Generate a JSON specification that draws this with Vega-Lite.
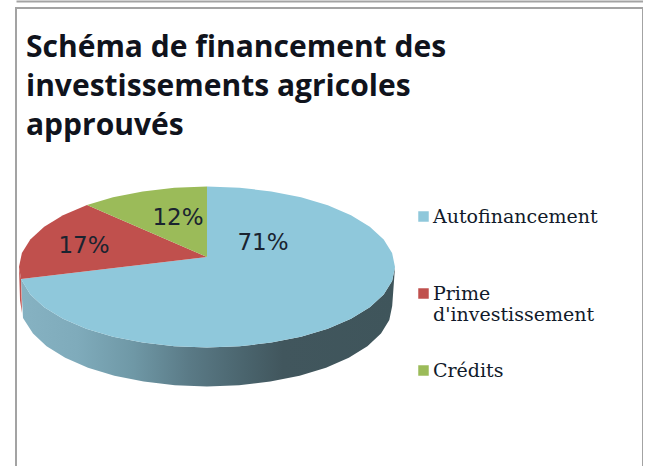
{"$schema":"https://vega.github.io/schema/vega-lite/v6.json","width":627,"height":470,"autosize":"none","padding":{"left":16,"top":8,"right":0,"bottom":0},"background":"white","view":{"stroke":"#a3a3a3","strokeWidth":2,"fill":"white"},"title":{"text":["Schéma de financement des","investissements agricoles","approuvés"],"anchor":"start","frame":"group","font":"Open Sans","fontWeight":"bold","fontSize":30,"lineHeight":39,"color":"#10131c","dx":10,"dy":144,"baseline":"top"},"layer":[{"data":{"values":[{"type":"Feature","properties":{"part":"flanc"},"geometry":{"type":"Polygon","coordinates":[[[188,0],[185.1,-14],[176.7,-27.5],[162.8,-40.3],[144,-51.7],[120.8,-61.7],[94,-69.7],[64.3,-75.6],[32.6,-79.3],[0,-80.5],[-32.6,-79.3],[-64.3,-75.6],[-94,-69.7],[-120.8,-61.7],[-144,-51.7],[-162.8,-40.3],[-176.7,-27.5],[-186,-12],[-184,-51],[-174,-66.5],[-160.4,-79.3],[-141.8,-90.7],[-119,-100.7],[-92.6,-108.7],[-63.3,-114.6],[-32.1,-118.3],[0,-119.5],[32.1,-118.3],[63.3,-114.6],[92.6,-108.7],[119,-100.7],[141.8,-90.7],[160.4,-79.3],[174,-66.5],[182.3,-53],[185.2,-39],[188,0]]]}}]},"mark":{"type":"geoshape","stroke":null,"fill":{"gradient":"linear","x1":0,"y1":0,"x2":1,"y2":0,"stops":[{"offset":0,"color":"#86b2c2"},{"offset":0.15,"color":"#7fabbb"},{"offset":0.3,"color":"#6f98a6"},{"offset":0.45,"color":"#5a7a86"},{"offset":0.6,"color":"#4a646d"},{"offset":0.7,"color":"#41565d"},{"offset":1,"color":"#3f555b"}]}},"projection":{"type":"identity","reflectY":true,"scale":1,"translate":[191,259]}},{"data":{"values":[{"type":"Feature","properties":{"part":"flanc rouge"},"geometry":{"type":"Polygon","coordinates":[[[-186,-12],[-188,0],[-187,-33],[-185,-46],[-186,-12]]]}}]},"mark":{"type":"geoshape","stroke":null,"fill":"#c0504d"},"projection":{"type":"identity","reflectY":true,"scale":1,"translate":[191,259]}},{"data":{"values":[{"type":"Feature","properties":{"poste":"Autofinancement"},"geometry":{"type":"Polygon","coordinates":[[[0,10],[0,80.5],[32.6,79.3],[64.3,75.6],[94,69.7],[120.8,61.7],[144,51.7],[162.8,40.3],[176.7,27.5],[185.1,14],[188,0],[185.1,-14],[176.7,-27.5],[162.8,-40.3],[144,-51.7],[120.8,-61.7],[94,-69.7],[64.3,-75.6],[32.6,-79.3],[0,-80.5],[-32.6,-79.3],[-64.3,-75.6],[-94,-69.7],[-120.8,-61.7],[-144,-51.7],[-162.8,-40.3],[-176.7,-27.5],[-186,-12],[0,10]]]}},{"type":"Feature","properties":{"poste":"Prime d'investissement"},"geometry":{"type":"Polygon","coordinates":[[[0,10],[-186,-12],[-188,0],[-185.1,14],[-176.7,27.5],[-162.8,40.3],[-144,51.7],[-120,62],[0,10]]]}},{"type":"Feature","properties":{"poste":"Crédits"},"geometry":{"type":"Polygon","coordinates":[[[0,10],[-120,62],[-94,69.7],[-64.3,75.6],[-32.6,79.3],[0,80.5],[0,10]]]}}]},"mark":{"type":"geoshape","stroke":null},"projection":{"type":"identity","reflectY":true,"scale":1,"translate":[191,259]},"encoding":{"color":{"field":"properties.poste","type":"nominal","scale":{"domain":["Autofinancement","Prime d'investissement","Crédits"],"range":["#8fc8db","#c0504d","#9bbb59"]},"legend":{"orient":"none","legendX":398,"legendY":199,"title":null,"symbolType":"square","symbolSize":110,"symbolStrokeWidth":0,"symbolOpacity":1,"labelFont":"DejaVu Serif","labelFontSize":19,"labelColor":"#111a2a","labelLimit":300,"labelOffset":0,"rowPadding":36,"labelExpr":"datum.label == \"Prime d'investissement\" ? ['Prime', \"d'investissement\"] : datum.label == 'Autofinancement' ? ['Autofinancement', ' '] : datum.label"}}}},{"data":{"values":[{"label":"71%","lon":56,"lat":24},{"label":"17%","lon":-123,"lat":21},{"label":"12%","lon":-29,"lat":49}]},"mark":{"type":"text","font":"DejaVu Sans","fontSize":23,"color":"#1a2430","align":"center","baseline":"middle"},"projection":{"type":"identity","reflectY":true,"scale":1,"translate":[191,259]},"encoding":{"longitude":{"field":"lon","type":"quantitative"},"latitude":{"field":"lat","type":"quantitative"},"text":{"field":"label"}}},{"data":{"values":[{"cadre":0},{"cadre":1}]},"mark":{"type":"rule","opacity":0},"encoding":{"x":{"field":"cadre","type":"quantitative","axis":{"orient":"top","offset":7,"ticks":false,"labels":false,"title":null,"grid":false,"domainColor":"#a3a3a3","domainWidth":2}}}}]}
